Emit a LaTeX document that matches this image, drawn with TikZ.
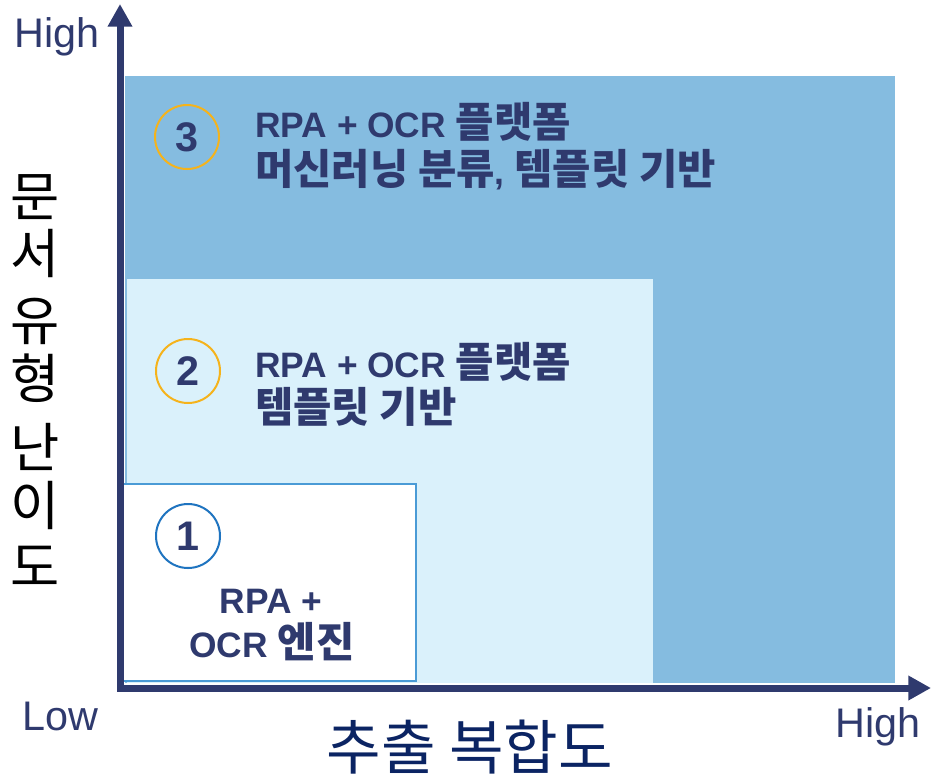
\documentclass[tikz,border=0pt]{standalone}
\usepackage{fontspec}
\setmainfont{Liberation Sans}
\newfontfamily\krfont{Noto Sans CJK KR}[Scale=1.18]
\usetikzlibrary{arrows.meta}
\definecolor{navy}{HTML}{2F3A6E}
\definecolor{titlenavy}{HTML}{0B2463}
\definecolor{deepblue}{HTML}{85BCE0}
\definecolor{paleblue}{HTML}{DAF1FB}
\definecolor{zoneedge}{HTML}{4A9BD6}
\definecolor{ringorange}{HTML}{F5B31B}
\definecolor{ringblue}{HTML}{1F74C0}
\newcommand{\kr}[1]{{\krfont #1}}
\tikzstyle{axis} = [draw=navy, line width=5.25pt, line join=miter,
    {Triangle[width=17.5pt,length=17pt]}-{Triangle[width=17.5pt,length=17pt]}]
\tikzstyle{zonetext} = [anchor=base west, inner sep=0pt, text=navy,
    font=\bfseries\fontsize{26.5}{30}\selectfont]
\tikzstyle{ring} = [draw, circle, line width=1.5pt, minimum size=48pt,
    inner sep=0pt, text=navy, font=\bfseries\fontsize{31}{34}\selectfont]
\tikzstyle{endlabel} = [inner sep=0pt, text=navy, font=\fontsize{31}{34}\selectfont]
\tikzstyle{ylab} = [anchor=base, inner sep=0pt, text=black,
    font=\krfont\fontsize{34}{38}\selectfont]

\begin{document}
\begin{tikzpicture}[x=0.75pt, y=-0.75pt]
    \useasboundingbox (0,0) rectangle (931,779);
    % We start by placing the zones
    \fill[deepblue] (125,76) rectangle (895,683);
    \fill[paleblue] (127,279) rectangle (653,683);
    \draw[zoneedge, fill=white, line width=1.2pt] (122,484) rectangle (416,681);
    % The axes
    \coordinate (origin) at (120,688);
    \coordinate (ytip) at (120,4);
    \coordinate (xtip) at (931,688);
    \draw[axis] (ytip) -- (origin) -- (xtip);
    \node[endlabel] (yhigh) at (57,37) {High};
    \node[endlabel] (xlow) at (60,716) {Low};
    \node[endlabel] (xhigh) at (878,727) {High};
    \node[inner sep=0pt, text=titlenavy, font=\krfont\fontsize{37.7}{42}\selectfont]
        (xtitle) at (470,747) {추출 복합도};
    \foreach \ch/\yy in {문/216, 서/273, 유/340, 형/398, 난/467, 이/525, 도/586}
        \node[ylab] (ytitle\yy) at (35,\yy) {\ch};
    % The numbered rings
    \node[ring, draw=ringorange] (ring3) at (187,137) {3};
    \node[ring, draw=ringorange] (ring2) at (188,371) {2};
    \node[ring, draw=ringblue] (ring1) at (188,536) {1};
    % The zone texts
    \node[zonetext] (zone3a) at (255,137) {RPA + OCR \kr{플랫폼}};
    \node[zonetext] (zone3b) at (255,184) {\kr{머신러닝 분류}, \kr{템플릿 기반}};
    \node[zonetext] (zone2a) at (255,377) {RPA + OCR \kr{플랫폼}};
    \node[zonetext] (zone2b) at (255,422) {\kr{템플릿 기반}};
    \node[zonetext, anchor=base] (zone1a) at (271,613) {RPA +};
    \node[zonetext, anchor=base] (zone1b) at (272,657) {OCR \kr{엔진}};
\end{tikzpicture}
\end{document}
